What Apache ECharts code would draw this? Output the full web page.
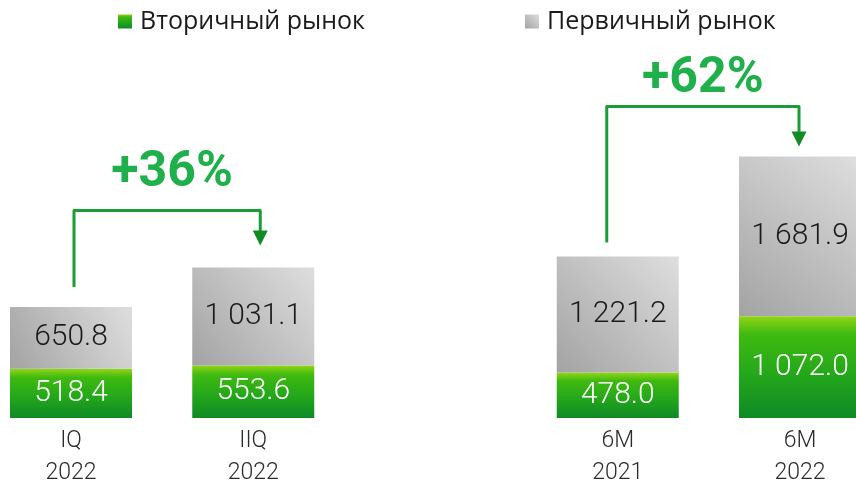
<!DOCTYPE html>
<html>
<head>
<meta charset="utf-8">
<script src="https://cdn.jsdelivr.net/npm/echarts@6/dist/echarts.min.js"></script>
<style>
  html, body { margin: 0; padding: 0; background: #ffffff; }
  #chart { width: 856px; height: 489px; }
</style>
</head>
<body>
<div id="chart"></div>
<script>
// ---- data ----
const categories = ['IQ\n2022', 'IIQ\n2022', '', '6M\n2021', '6M\n2022'];
const secondaryName = 'Вторичный рынок';
const primaryName = 'Первичный рынок';
const secondaryValues = [518.4, 553.6, '-', 478.0, 1072.0];
const primaryValues = [650.8, 1031.1, '-', 1221.2, 1681.9];
// comparisons: [fromIndex, toIndex]
const comparisons = [[0, 1], [3, 4]];

function fmt(v) {
  const s = Number(v).toFixed(1);
  const parts = s.split('.');
  return parts[0].replace(/\B(?=(\d{3})+(?!\d))/g, ' ') + '.' + parts[1];
}

const greenGrad = new echarts.graphic.LinearGradient(0, 0, 0, 1, [
  { offset: 0, color: '#93d516' },
  { offset: 0.18, color: '#3fba10' },
  { offset: 0.55, color: '#26a81a' },
  { offset: 1, color: '#0e8a26' }
]);
const grayGrad = new echarts.graphic.LinearGradient(0, 1, 1, 0, [
  { offset: 0, color: '#a3a3a3' },
  { offset: 1, color: '#dedede' }
]);

const FONT = 'Roboto, "Noto Sans", sans-serif';
const LFONT = '"Open Sans", Roboto, sans-serif';

const chart = echarts.init(document.getElementById('chart'), null, { renderer: 'canvas' });

chart.setOption({
  animation: false,
  backgroundColor: '#ffffff',
  legend: [
    {
      data: [secondaryName], left: 118, top: 9, padding: 0, itemWidth: 14, itemHeight: 14, icon: 'rect',
      textStyle: { fontFamily: LFONT, fontSize: 25, color: '#1a1a1a', lineHeight: 25, padding: [0, 0, 0, 3] }
    },
    {
      data: [primaryName], left: 525, top: 9, padding: 0, itemWidth: 14, itemHeight: 14, icon: 'rect',
      textStyle: { fontFamily: LFONT, fontSize: 25, color: '#1a1a1a', lineHeight: 25, padding: [0, 0, 0, 3] }
    }
  ],
  grid: { left: 71, right: 56, top: 133, bottom: 70, containLabel: false },
  xAxis: {
    type: 'category',
    data: categories,
    boundaryGap: false,
    axisLine: { show: false },
    axisTick: { show: false },
    axisLabel: {
      margin: 7, fontFamily: FONT, fontSize: 23, fontWeight: 300, color: '#2a2a2a', lineHeight: 32,
      interval: 0
    }
  },
  yAxis: {
    type: 'value', min: 0, max: 3000,
    show: false, splitLine: { show: false }
  },
  series: [
    {
      name: secondaryName, type: 'bar', stack: 'total', barWidth: 122,
      data: secondaryValues,
      itemStyle: { color: greenGrad },
      label: {
        show: true, position: 'inside', formatter: p => fmt(p.value),
        fontFamily: FONT, fontSize: 30, fontWeight: 300, color: '#ffffff'
      }
    },
    {
      name: primaryName, type: 'bar', stack: 'total', barWidth: 122,
      data: primaryValues,
      itemStyle: { color: grayGrad },
      label: {
        show: true, position: 'inside', formatter: p => fmt(p.value),
        fontFamily: FONT, fontSize: 30, fontWeight: 300, color: '#1a1a1a'
      }
    }
  ]
});

// ---- annotations (arrows + growth) positioned from the axes ----
function total(i) { return secondaryValues[i] + primaryValues[i]; }
function px(i, v) { return chart.convertToPixel({ gridIndex: 0 }, [i, v]); }

const lineColor = '#1c9c34';
const headColor = '#138b25';
const textColor = '#1fb04c';
const cfg = [
  { dxFrom: 3, gapFrom: 20, dxTo: 7, gapTo: 22, above: 57, textUp: 37, textDx: 5 },
  { dxFrom: -11, gapFrom: 14, dxTo: -1, gapTo: 10, above: 50, textUp: 27, textDx: 0 }
];
const graphics = [];
comparisons.forEach((c, k) => {
  const a = px(c[0], total(c[0]));
  const b = px(c[1], total(c[1]));
  const o = cfg[k];
  const x1 = a[0] + o.dxFrom, y1 = a[1] - o.gapFrom;
  const x2 = b[0] + o.dxTo, tip = b[1] - o.gapTo;
  const yh = b[1] - o.above;
  const headH = 15, headW = 15;
  graphics.push({
    type: 'polyline',
    shape: { points: [[x1, y1], [x1, yh], [x2, yh], [x2, tip - headH + 1]] },
    style: { stroke: lineColor, lineWidth: 3, fill: null, lineJoin: 'round' }
  });
  graphics.push({
    type: 'polygon',
    shape: { points: [[x2 - headW / 2, tip - headH], [x2 + headW / 2, tip - headH], [x2, tip]] },
    style: { fill: headColor }
  });
  const pct = Math.round((total(c[1]) / total(c[0]) - 1) * 100);
  graphics.push({
    type: 'text',
    x: (x1 + x2) / 2 + o.textDx, y: yh - o.textUp,
    style: {
      text: '+' + pct + '%', fill: textColor, font: 'bold 50px ' + FONT,
      textAlign: 'center', textVerticalAlign: 'middle'
    }
  });
});
chart.setOption({ graphic: graphics });
</script>
</body>
</html>
